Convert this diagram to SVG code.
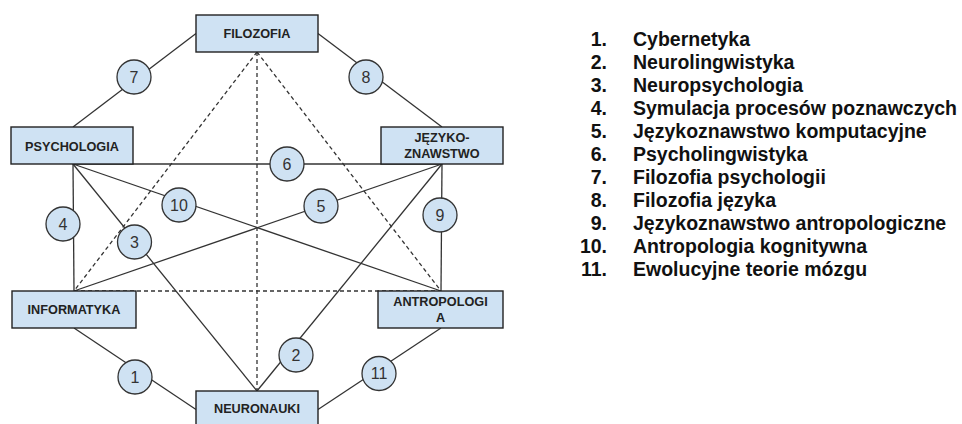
<svg xmlns="http://www.w3.org/2000/svg" width="962" height="424" viewBox="0 0 962 424">
  <style>
    .box { fill: #cfe2f3; stroke: #222; stroke-width: 1.4; }
    .lbl { font-family: "Liberation Sans", Arial, sans-serif; font-weight: bold; font-size: 12.7px; fill: #222; text-anchor: middle; }
    .edge { stroke: #333; stroke-width: 1.3; fill: none; }
    .dash { stroke: #333; stroke-width: 1.3; fill: none; stroke-dasharray: 4 3; }
    .badge circle { fill: #cfe2f3; stroke: #333; stroke-width: 1.3; }
    .badge text { font-family: "Liberation Sans", Arial, sans-serif; font-size: 16px; fill: #333; text-anchor: middle; }
    .legend text { font-family: "Liberation Sans", Arial, sans-serif; font-weight: bold; font-size: 19.5px; fill: #111; }
    .legend .num { text-anchor: end; }
  </style>

  <!-- connectors between the six disciplines -->
  <g id="connectors">
    <line class="dash" x1="257" y1="52" x2="74" y2="291"/>
    <line class="dash" x1="257" y1="52" x2="257" y2="391"/>
    <line class="dash" x1="257" y1="52" x2="441" y2="291"/>
    <line class="dash" x1="74" y1="291" x2="441" y2="291"/>

    <line class="edge" x1="196" y1="33.5" x2="73" y2="127"/>
    <line class="edge" x1="318" y1="33.5" x2="442" y2="127"/>
    <line class="edge" x1="73" y1="164" x2="442" y2="164"/>
    <line class="edge" x1="73" y1="164" x2="441" y2="291"/>
    <line class="edge" x1="442" y1="164" x2="74" y2="291"/>
    <line class="edge" x1="73" y1="164" x2="74" y2="291"/>
    <line class="edge" x1="442" y1="164" x2="441" y2="291"/>
    <line class="edge" x1="73" y1="164" x2="257" y2="391"/>
    <line class="edge" x1="442" y1="164" x2="257" y2="391"/>
    <line class="edge" x1="74" y1="328" x2="196" y2="409.5"/>
    <line class="edge" x1="441" y1="328" x2="318" y2="409.5"/>
  </g>

  <!-- numbered badges on the connectors -->
  <g id="edge-labels">
    <g class="badge" id="b1"><circle cx="135" cy="377" r="17"/><text x="135" y="382.7">1</text></g>
    <g class="badge" id="b2"><circle cx="296" cy="355" r="17"/><text x="296" y="360.7">2</text></g>
    <g class="badge" id="b3"><circle cx="134.5" cy="242" r="17"/><text x="134.5" y="247.7">3</text></g>
    <g class="badge" id="b4"><circle cx="63" cy="224" r="17"/><text x="63" y="229.7">4</text></g>
    <g class="badge" id="b5"><circle cx="321" cy="206" r="17"/><text x="321" y="211.7">5</text></g>
    <g class="badge" id="b6"><circle cx="287" cy="164" r="17"/><text x="287" y="169.7">6</text></g>
    <g class="badge" id="b7"><circle cx="134" cy="77" r="17"/><text x="134" y="82.7">7</text></g>
    <g class="badge" id="b8"><circle cx="366" cy="77" r="17"/><text x="366" y="82.7">8</text></g>
    <g class="badge" id="b9"><circle cx="440" cy="215" r="17"/><text x="440" y="220.7">9</text></g>
    <g class="badge" id="b10"><circle cx="179" cy="205" r="17"/><text x="179" y="210.7">10</text></g>
    <g class="badge" id="b11"><circle cx="379" cy="373.5" r="17"/><text x="379" y="379.2">11</text></g>
  </g>

  <!-- discipline boxes -->
  <g id="filozofia">
    <rect class="box" x="196" y="15" width="122" height="37"/>
    <text class="lbl" x="257" y="37.7">FILOZOFIA</text>
  </g>
  <g id="psychologia">
    <rect class="box" x="11" y="127" width="122" height="37"/>
    <text class="lbl" x="72" y="150.5">PSYCHOLOGIA</text>
  </g>
  <g id="jezykoznawstwo">
    <rect class="box" x="381" y="127" width="122" height="37"/>
    <text class="lbl" x="442" y="141.7">JĘZYKO-</text>
    <text class="lbl" x="442" y="158">ZNAWSTWO</text>
  </g>
  <g id="informatyka">
    <rect class="box" x="12" y="291" width="124" height="37"/>
    <text class="lbl" x="74" y="314.3">INFORMATYKA</text>
  </g>
  <g id="antropologia">
    <rect class="box" x="378" y="291" width="125" height="37"/>
    <text class="lbl" x="440.5" y="306">ANTROPOLOGI</text>
    <text class="lbl" x="440.5" y="322">A</text>
  </g>
  <g id="neuronauki">
    <rect class="box" x="196" y="391" width="122" height="37"/>
    <text class="lbl" x="257" y="413.3">NEURONAUKI</text>
  </g>

  <!-- legend -->
  <g class="legend" id="legend">
    <text class="num" x="607" y="45.5">1.</text><text x="633" y="45.5">Cybernetyka</text>
    <text class="num" x="607" y="68.5">2.</text><text x="633" y="68.5">Neurolingwistyka</text>
    <text class="num" x="607" y="91.5">3.</text><text x="633" y="91.5">Neuropsychologia</text>
    <text class="num" x="607" y="114.5">4.</text><text x="633" y="114.5">Symulacja procesów poznawczych</text>
    <text class="num" x="607" y="137.5">5.</text><text x="633" y="137.5">Językoznawstwo komputacyjne</text>
    <text class="num" x="607" y="160.5">6.</text><text x="633" y="160.5">Psycholingwistyka</text>
    <text class="num" x="607" y="183.5">7.</text><text x="633" y="183.5">Filozofia psychologii</text>
    <text class="num" x="607" y="206.5">8.</text><text x="633" y="206.5">Filozofia języka</text>
    <text class="num" x="607" y="229.5">9.</text><text x="633" y="229.5">Językoznawstwo antropologiczne</text>
    <text class="num" x="607" y="252.5">10.</text><text x="633" y="252.5">Antropologia kognitywna</text>
    <text class="num" x="607" y="275.5">11.</text><text x="633" y="275.5">Ewolucyjne teorie mózgu</text>
  </g>
</svg>
